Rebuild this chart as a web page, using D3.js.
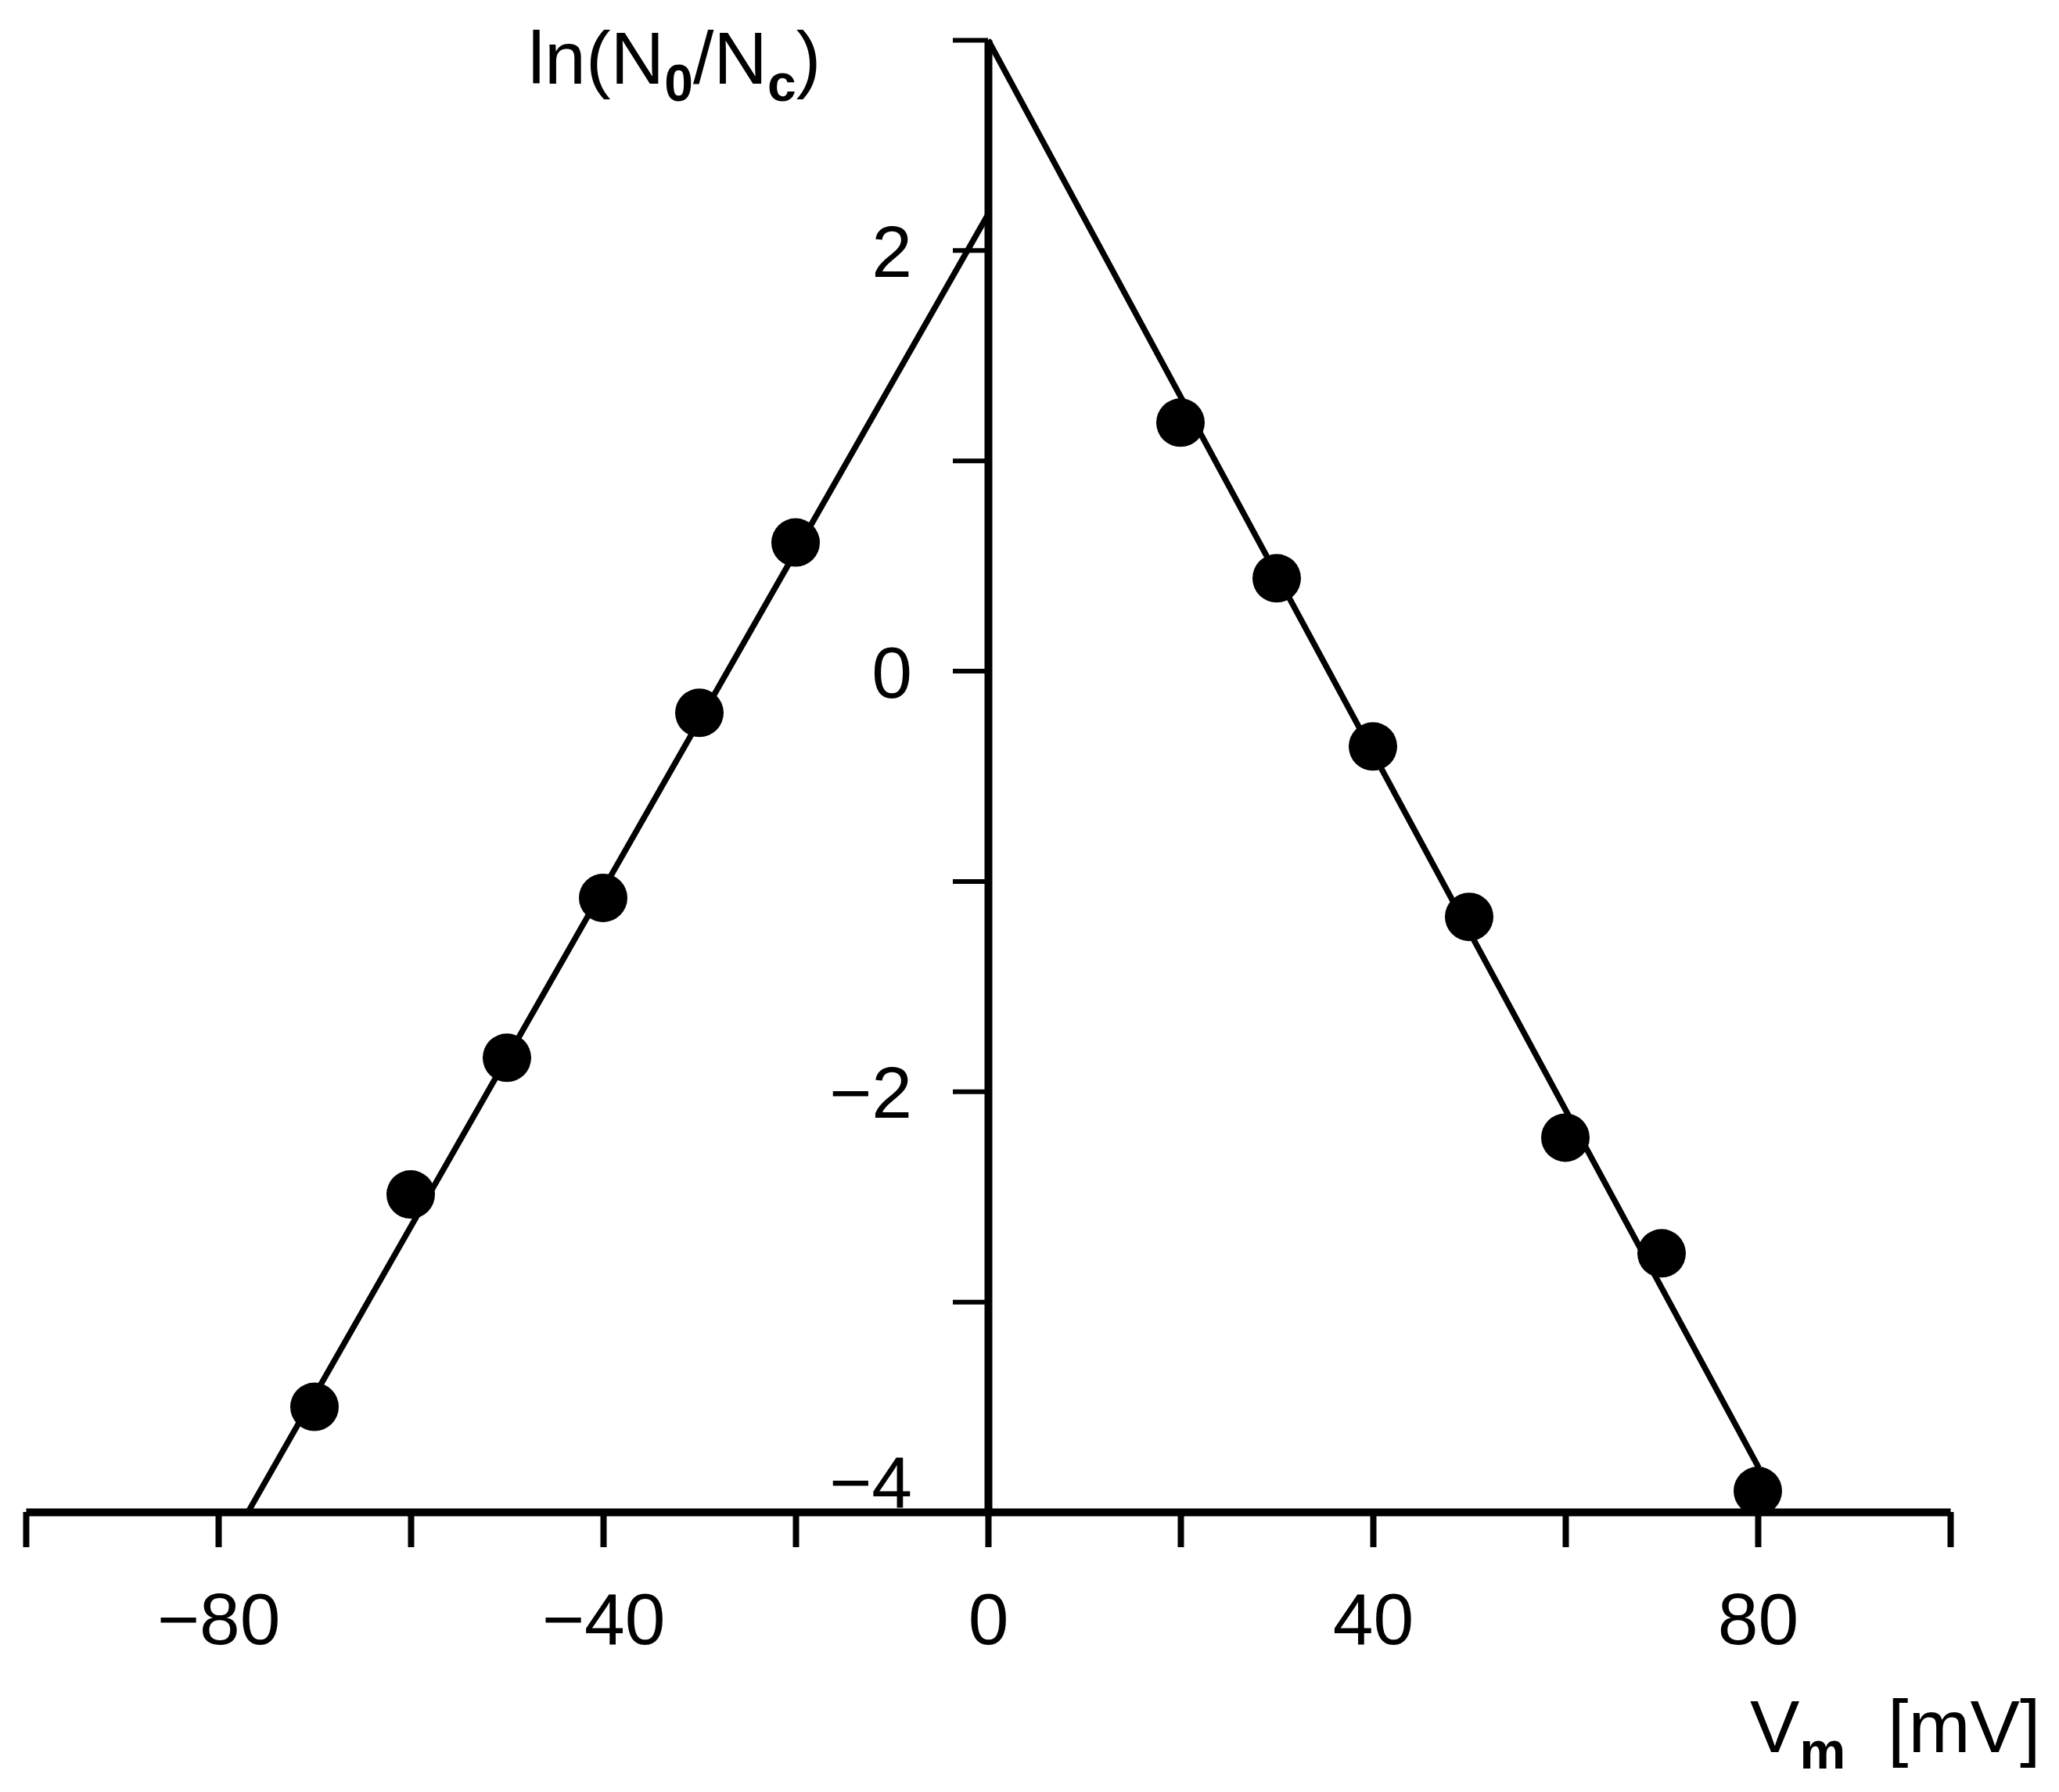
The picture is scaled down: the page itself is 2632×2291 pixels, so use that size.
<!DOCTYPE html>
<html>
<head>
<meta charset="utf-8">
<script src="https://cdn.jsdelivr.net/npm/d3@7"></script>
<style>
  html, body { margin: 0; padding: 0; background: #fff; }
  svg { display: block; }
  .axis text { font-family: "Liberation Sans", Arial, sans-serif; font-size: 93px; fill: #000; }
  .title { font-family: "Liberation Sans", Arial, sans-serif; font-size: 95px; fill: #000; }
  .sub { font-size: 66px; font-weight: bold; }
</style>
</head>
<body>
<div id="chart"></div>
<script>
// measured points, ln(N0/Nc) against membrane potential
var leftVm = [-70, -60, -50, -40, -30, -20];
var leftLn = [-3.50, -2.49, -1.84, -1.08, -0.20, 0.61];
var rightVm = [20, 30, 40, 50, 60, 70, 80];
var rightLn = [1.18, 0.44, -0.36, -1.17, -2.22, -2.77, -3.90];

// fitted straight lines (end points)
var fitLeftVm = [-76.9, 0];
var fitLeftLn = [-4, 2.17];
var fitRightVm = [0, 80.1];
var fitRightLn = [3, -3.79];

// ticks
var xTickValues = [-100, -80, -60, -40, -20, 0, 20, 40, 60, 80, 100];
var xTickLabels = [-80, -40, 0, 40, 80];
var yTickValues = [-4, -3, -2, -1, 0, 1, 2, 3];
var yTickLabels = [-4, -2, 0, 2];

var W = 2632, H = 2291;

var x = d3.scaleLinear().domain([-100, 100]).range([33, 2493]);
var y = d3.scaleLinear().domain([-4, 3]).range([1933, 51]);

var svg = d3.select('#chart')
  .append('svg')
  .attr('width', W)
  .attr('height', H);

var minus = function(v) { return v < 0 ? '\u2212' + Math.abs(v) : '' + v; };

// x axis
var xAxis = d3.axisBottom(x)
  .tickValues(xTickValues)
  .tickSize(45)
  .tickSizeOuter(0)
  .tickFormat(function(d) { return xTickLabels.indexOf(d) >= 0 ? minus(d) : ''; });

var gx = svg.append('g')
  .attr('class', 'axis')
  .attr('transform', 'translate(0,' + y(-4) + ')')
  .call(xAxis);
gx.select('.domain').attr('stroke', '#000').attr('stroke-width', 10);
gx.selectAll('.tick line').attr('stroke', '#000').attr('stroke-width', 8);
gx.selectAll('.tick text').attr('y', 169).attr('dy', null);

// y axis
var yAxis = d3.axisLeft(y)
  .tickValues(yTickValues)
  .tickSize(45)
  .tickSizeOuter(0)
  .tickFormat(function(d) { return yTickLabels.indexOf(d) >= 0 ? minus(d) : ''; });

var gy = svg.append('g')
  .attr('class', 'axis')
  .attr('transform', 'translate(' + x(0) + ',0)')
  .call(yAxis);
gy.select('.domain').attr('stroke', '#000').attr('stroke-width', 10);
gy.selectAll('.tick line').attr('stroke', '#000').attr('stroke-width', 6);
gy.selectAll('.tick text')
  .attr('x', -97)
  .attr('dy', '0.36em')
  .attr('transform', function(d) { return d === -4 ? 'translate(0,-40)' : null; });

// fitted lines
var line = d3.line()
  .x(function(d) { return x(d[0]); })
  .y(function(d) { return y(d[1]); });

[[fitLeftVm, fitLeftLn], [fitRightVm, fitRightLn]].forEach(function(f) {
  svg.append('path')
    .datum(d3.zip(f[0], f[1]))
    .attr('fill', 'none')
    .attr('stroke', '#000')
    .attr('stroke-width', 7.5)
    .attr('d', line);
});

// data points
var points = d3.zip(leftVm.concat(rightVm), leftLn.concat(rightLn));
svg.selectAll('circle.pt')
  .data(points)
  .enter()
  .append('circle')
  .attr('class', 'pt')
  .attr('cx', function(d) { return x(d[0]); })
  .attr('cy', function(d) { return y(d[1]); })
  .attr('r', 31)
  .attr('fill', '#000');

// axis titles
var yt = svg.append('text')
  .attr('class', 'title')
  .attr('x', 675)
  .attr('y', 107);
yt.append('tspan').text('ln(N');
yt.append('tspan').attr('class', 'sub').attr('dy', 22).text('0');
yt.append('tspan').attr('dy', -22).text('/N');
yt.append('tspan').attr('class', 'sub').attr('dy', 22).text('c');
yt.append('tspan').attr('dy', -22).text(')');

var xt = svg.append('text')
  .attr('class', 'title')
  .attr('x', 2237)
  .attr('y', 2240);
xt.append('tspan').text('V');
xt.append('tspan').attr('class', 'sub').attr('dy', 21).text('m');
xt.append('tspan').attr('dy', -21).attr('x', 2413).text('[mV]');
</script>
</body>
</html>
